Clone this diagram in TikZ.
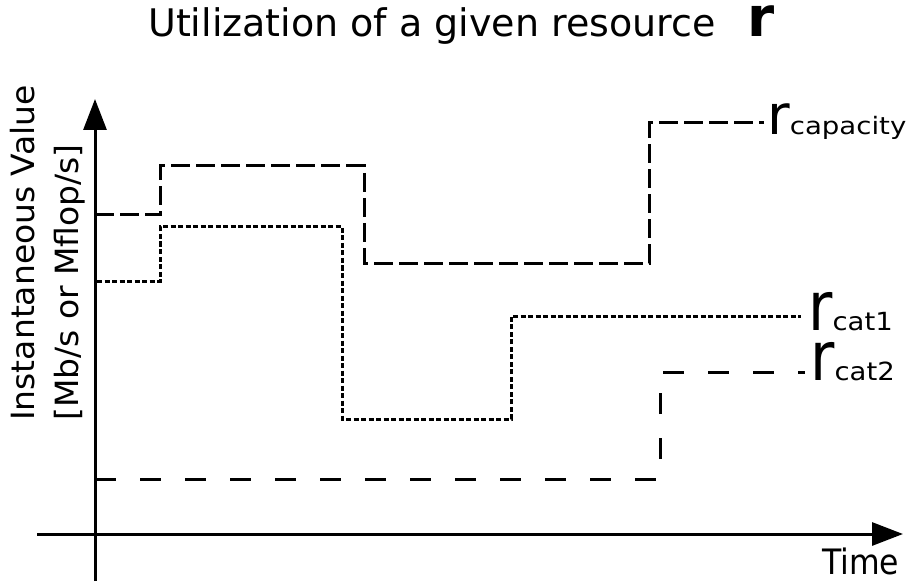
\documentclass[tikz,border=0pt]{standalone}
\usepackage{fontspec}
\setmainfont{DejaVu Sans}
\usepackage{graphicx}
\usetikzlibrary{arrows.meta}
\newcommand\fsz[2]{{\fontsize{#1}{#1}\selectfont #2}}
\begin{document}
\begin{tikzpicture}[x=1pt,y=-1pt,
  axis/.style={line width=3pt,-{Triangle[length=31pt,width=23pt]}},
  capline/.style={line width=3pt, dash pattern=on 19pt off 6pt},
  cataline/.style={line width=3pt, dash pattern=on 5pt off 2.5pt},
  catbline/.style={line width=3pt, dash pattern=on 21pt off 24pt},
  txt/.style={inner sep=0pt, anchor=base west}]
\useasboundingbox (0,0) rectangle (912,585);
% title
\node[txt, text height=29pt, text depth=8pt] (title) at (148,37) {\fsz{38}{Utilization of a given resource}};
\node[txt, text height=30pt, text depth=0pt] (titler) at (747,37) {\fsz{55}{\bfseries r}};
% axis labels
\node[txt, rotate=90] (ylab1) at (34,421) {\scalebox{1.03}[1]{\fsz{32}{Instantaneous Value}}};
\node[txt, rotate=90] (ylab2) at (78,421) {\scalebox{1.03}[1]{\fsz{32}{[Mb/s or Mflop/s]}}};
\node[txt, text height=26pt, text depth=0pt] (time) at (822,574) {\scalebox{0.9}[1]{\fsz{35}{Time}}};
% data lines
\draw[capline] (95,215) -- (160,215) -- (160,166) -- (364,166) -- (364,263) -- (649,263) -- (649,123) -- (764,123);
\draw[cataline] (97,281) -- (160,281) -- (160,227) -- (342,227) -- (342,419) -- (511,419) -- (511,316) -- (801,316);
\draw[catbline] (95,479) -- (660,479) -- (660,372) -- (805,372);
% series labels
\node[txt, text height=30pt, text depth=6pt] (lcap) at (767,135) {\fsz{55}{r}\scalebox{1.15}[1]{\fsz{24}{capacity}}};
\node[txt, text height=37pt, text depth=0pt] (lcat1) at (808,330) {\scalebox{0.87}[1]{\fsz{68}{r}}\scalebox{1.1}[1]{\fsz{25}{cat1}}};
\node[txt, text height=35pt, text depth=0pt] (lcat2) at (810,380) {\scalebox{0.87}[1]{\fsz{68}{r}}\scalebox{1.1}[1]{\fsz{25}{cat2}}};
% axes
\coordinate (yb) at (95,581);
\coordinate (yt) at (95,99);
\coordinate (xl) at (37,534);
\coordinate (xr) at (903,534);
\draw[axis] (yb) -- (yt);
\draw[axis] (xl) -- (xr);
\end{tikzpicture}
\end{document}
